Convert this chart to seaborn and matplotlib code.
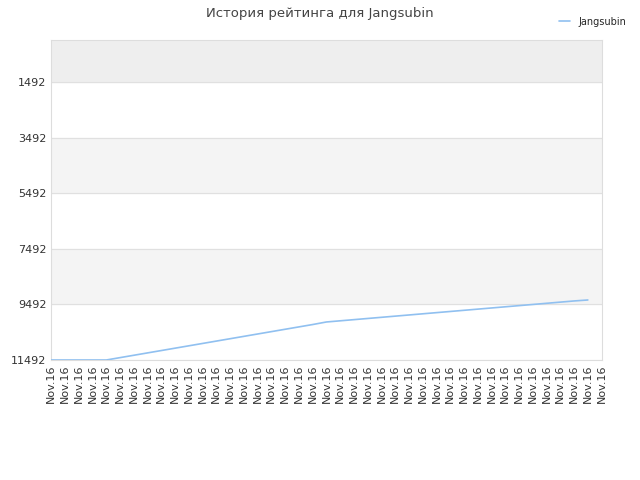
import matplotlib
matplotlib.use("Agg")
import matplotlib.pyplot as plt
import seaborn as sb
import pandas as pd

# rating history (rank, lower is better)
ranks = [11492, 11492, 11492, 11492, 11492,
         11407, 11322, 11237, 11152, 11067, 10982, 10897, 10812,
         10727, 10642, 10557, 10472, 10387, 10302, 10217, 10125,
         10083, 10041, 9999, 9957, 9915, 9873, 9831, 9789, 9747,
         9705, 9663, 9621, 9579, 9537, 9495, 9453, 9411, 9369, 9334]
n_ticks = 41
tick_labels = ["Nov.16"] * n_ticks
y_ticks = [1492, 3492, 5492, 7492, 9492, 11492]

df = pd.DataFrame({"idx": range(len(ranks)), "rank": ranks})

sb.set_style("white")
fig, ax = plt.subplots(figsize=(6.4, 4.8), dpi=100)
fig.subplots_adjust(left=0.08, right=0.94, top=0.917, bottom=0.25)

ax.axhspan(-20, 1492, color="#eeeeee", zorder=0)
ax.axhspan(3492, 5492, color="#f4f4f4", zorder=0)
ax.axhspan(7492, 9492, color="#f4f4f4", zorder=0)
for y in y_ticks:
    ax.axhline(y, color="#e0e0e0", lw=0.8, zorder=1)

sb.lineplot(data=df, x="idx", y="rank", ax=ax, color="#90c0f0", lw=1.2,
            label="Jangsubin", zorder=3)

ax.set_xlim(0, n_ticks - 1)
ax.set_ylim(11492, -20)
ax.set_yticks(y_ticks)
ax.set_yticklabels([str(v) for v in y_ticks], fontsize=8, color="#333333")
ax.set_xticks(range(n_ticks))
ax.set_xticklabels(tick_labels, rotation=90, fontsize=8, color="#333333")
ax.set_xlabel("")
ax.set_ylabel("")
for s in ax.spines.values():
    s.set_color("#dddddd")
ax.tick_params(length=0)

ax.legend(loc="upper right", bbox_to_anchor=(1.06, 1.1), frameon=False,
          fontsize=7, handlelength=1.2)
fig.suptitle("История рейтинга для Jangsubin", x=0.5, y=0.985,
             fontsize=9.5, color="#444444")
fig.savefig("out.png")
